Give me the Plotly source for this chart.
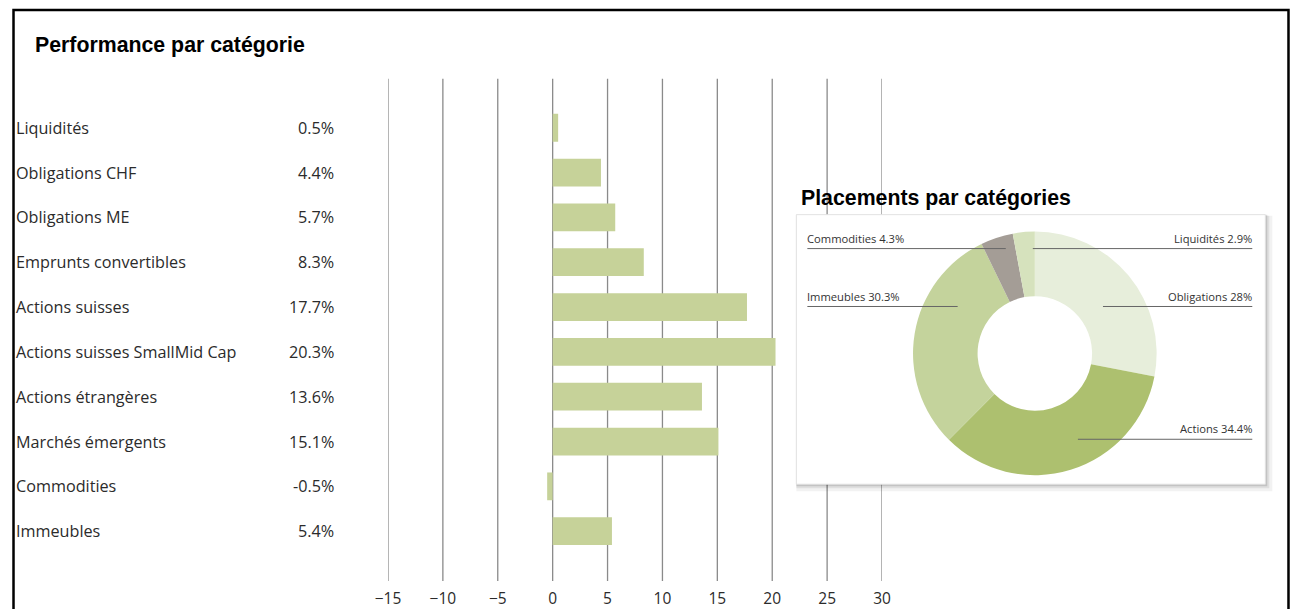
import plotly.graph_objects as go

# ---------------- data ----------------
categories = ["Liquidités", "Obligations CHF", "Obligations ME", "Emprunts convertibles",
              "Actions suisses", "Actions suisses SmallMid Cap", "Actions étrangères",
              "Marchés émergents", "Commodities", "Immeubles"]
performance = [0.5, 4.4, 5.7, 8.3, 17.7, 20.3, 13.6, 15.1, -0.5, 5.4]

x_ticks = [-15, -10, -5, 0, 5, 10, 15, 20, 25, 30]

alloc_labels = ["Obligations", "Actions", "Immeubles", "Commodities", "Liquidités"]
alloc_values = [28, 34.4, 30.3, 4.3, 2.9]
alloc_colors = ["#e7eedb", "#adc06f", "#c4d39c", "#a49d96", "#d6e2bd"]

# ---------------- layout helpers ----------------
W, H = 1298, 609
OX, SX = 15.3, 0.981   # horizontal compensation for how the page is photographed
def fx(p):
    return min(max(((p - OX) / SX) / W, 0.0004), 0.9996)
def fy(p):
    return 1 - p / H

LABEL_FONT = "Open Sans"
TEXT_COLOR = "#2b2b2b"

fig = go.Figure()

fig.add_trace(go.Bar(
    x=performance, y=categories, orientation="h",
    marker=dict(color="#c6d299", line=dict(width=0)),
    width=0.62, hoverinfo="x+y", showlegend=False,
))

fig.add_trace(go.Pie(
    labels=alloc_labels, values=alloc_values,
    marker=dict(colors=alloc_colors, line=dict(width=0)),
    hole=0.47, sort=False, direction="clockwise", rotation=0,
    textinfo="none", showlegend=False,
    domain=dict(x=[fx(1035 - 122), fx(1035 + 122)], y=[fy(354 + 122), fy(354 - 122)]),
))

shapes = []
# grid lines (below everything)
for t in x_ticks:
    shapes.append(dict(type="line", xref="x", yref="paper", x0=t, x1=t,
                       y0=fy(79), y1=fy(582), layer="below",
                       line=dict(color="#8a8a8a", width=1.3)))
# panel shadow + panel
shapes.append(dict(type="rect", xref="paper", yref="paper", layer="below",
                   x0=fx(797), x1=fx(1272), y0=fy(492), y1=fy(216),
                   fillcolor="rgba(0,0,0,0.05)", line=dict(width=0)))
shapes.append(dict(type="rect", xref="paper", yref="paper", layer="below",
                   x0=fx(797), x1=fx(1269), y0=fy(489), y1=fy(216),
                   fillcolor="rgba(0,0,0,0.08)", line=dict(width=0)))
shapes.append(dict(type="rect", xref="paper", yref="paper", layer="below",
                   x0=fx(797), x1=fx(1267), y0=fy(487), y1=fy(215),
                   fillcolor="rgba(0,0,0,0.12)", line=dict(width=0)))
shapes.append(dict(type="rect", xref="paper", yref="paper", layer="below",
                   x0=fx(797), x1=fx(1265), y0=fy(485), y1=fy(215),
                   fillcolor="white", line=dict(color="#e2e2e2", width=1)))
# outer frame
shapes.append(dict(type="rect", xref="paper", yref="paper", layer="above",
                   x0=fx(6), x1=fx(1290), y0=-0.1, y1=fy(10),
                   fillcolor="rgba(0,0,0,0)", line=dict(color="black", width=2.5)))

annotations = []
# titles
annotations.append(dict(text="<b>Performance par catégorie</b>", xref="paper", yref="paper",
                        x=fx(35), y=fy(45), xanchor="left", yanchor="middle", showarrow=False,
                        font=dict(family="Liberation Sans, Arial", size=21.3, color="black")))
annotations.append(dict(text="<b>Placements par catégories</b>", xref="paper", yref="paper",
                        x=fx(800), y=fy(198), xanchor="left", yanchor="middle", showarrow=False,
                        font=dict(family="Liberation Sans, Arial", size=21.3, color="black")))
# category + value labels
for c, v in zip(categories, performance):
    annotations.append(dict(text=c, xref="paper", yref="y", x=fx(16), y=c,
                            xanchor="left", yanchor="middle", showarrow=False,
                            font=dict(family=LABEL_FONT, size=16.2, color=TEXT_COLOR)))
    annotations.append(dict(text=f"{v:.1f}%", xref="paper", yref="y", x=fx(338), y=c,
                            xanchor="right", yanchor="middle", showarrow=False,
                            font=dict(family=LABEL_FONT, size=16.2, color=TEXT_COLOR)))

# donut labels with leader lines: side, text y, line y, line x start/end (pixels)
leaders = {
    "Commodities": ("left", 239, 249, 808, 1006),
    "Liquidités": ("right", 239, 249, 1033, 1252),
    "Immeubles": ("left", 297, 307, 808, 958),
    "Obligations": ("right", 297, 307, 1103, 1252),
    "Actions": ("right", 429, 440, 1078, 1252),
}
for lab, val in zip(alloc_labels, alloc_values):
    side, ty, ly, lx0, lx1 = leaders[lab]
    annotations.append(dict(text=f"{lab} {val:g}%", xref="paper", yref="paper",
                            x=fx(lx0 - 2) if side == "left" else fx(lx1 + 2), y=fy(ty),
                            xanchor=side, yanchor="middle", showarrow=False,
                            font=dict(family=LABEL_FONT, size=11.2, color="#333333")))
    shapes.append(dict(type="line", xref="paper", yref="paper", layer="above",
                       x0=fx(lx0), x1=fx(lx1), y0=fy(ly), y1=fy(ly),
                       line=dict(color="#666666", width=1)))

fig.update_layout(
    autosize=True,
    margin=dict(l=0, r=0, t=0, b=0),
    paper_bgcolor="white", plot_bgcolor="rgba(0,0,0,0)",
    shapes=shapes, annotations=annotations,
    xaxis=dict(domain=[fx(389.5), fx(882.5)], range=[-15, 30],
               showgrid=False, zeroline=False, showline=False, ticks="",
               tickvals=x_ticks, ticktext=[("\u2212" if t < 0 else "") + str(abs(t)) for t in x_ticks],
               anchor="free", position=fy(588),
               tickfont=dict(family=LABEL_FONT, size=15.5, color=TEXT_COLOR), fixedrange=True),
    yaxis=dict(domain=[fy(554.5), fy(105.5)], categoryorder="array", categoryarray=categories,
               autorange="reversed", visible=False, fixedrange=True),
)

fig.write_html(
    "out.html",
    default_width="100vw",
    default_height="100vh; position:fixed; top:0; left:0",
    config={"displayModeBar": False, "responsive": True},
)
